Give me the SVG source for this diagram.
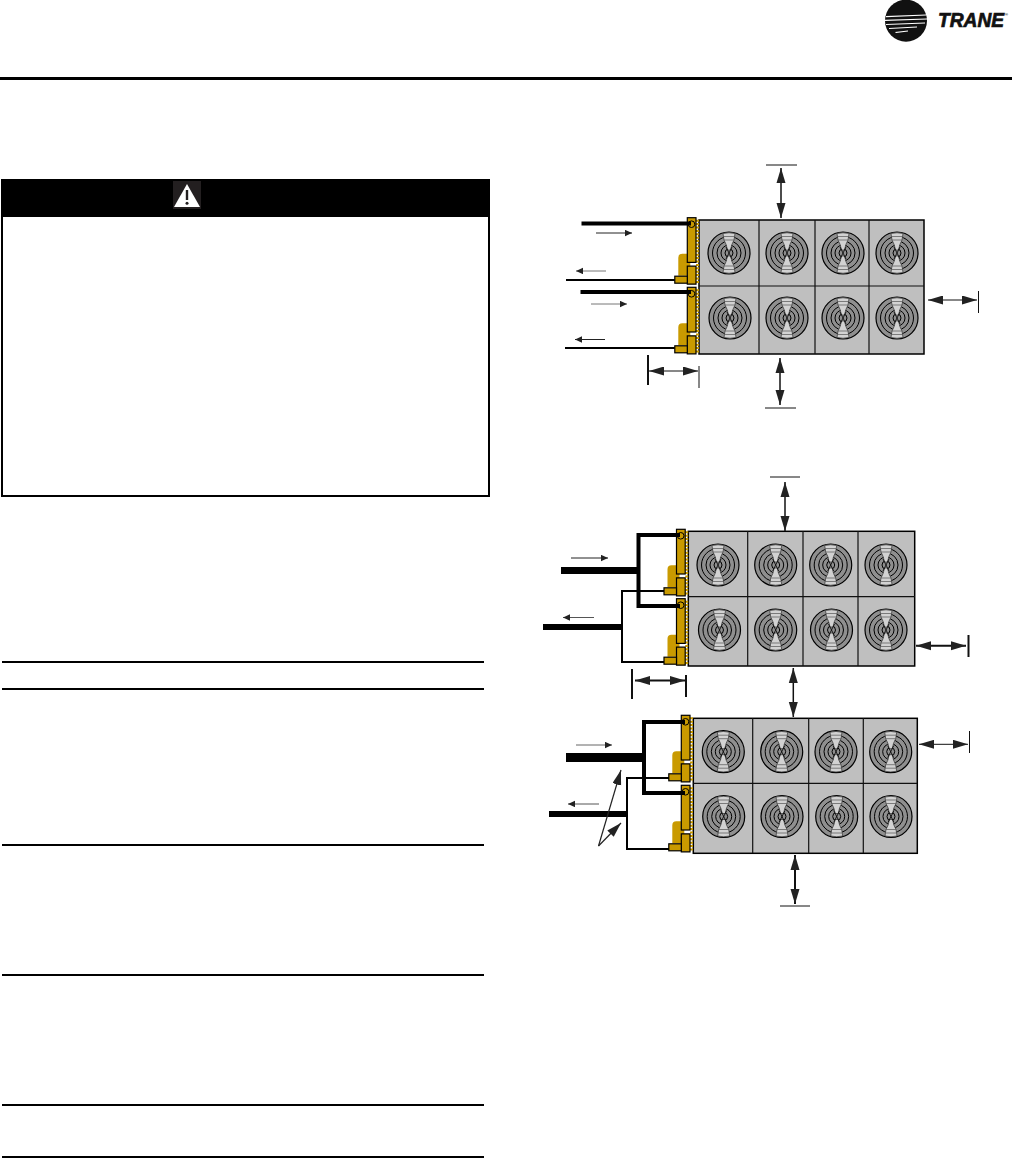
<svg xmlns="http://www.w3.org/2000/svg" width="1012" height="1158" viewBox="0 0 1012 1158">
<style>
.rule{stroke:#000;stroke-width:2;fill:none}
.cell{fill:#bfbfbf;stroke:#000;stroke-width:1.5}
.div{stroke:#111;stroke-width:1.2;fill:none}
.y{fill:#c99a00}
.ys{fill:#c99a00;stroke:#000;stroke-width:1.2}
.pipe{stroke:#000;fill:none;stroke-linejoin:miter}
.flow{stroke:#222;stroke-width:1;fill:none;marker-end:url(#small)}
.dim{stroke:#111;fill:none;marker-start:url(#bigS);marker-end:url(#big)}
.tick{stroke:#111;fill:none}
.ring{fill:none;stroke:#000;stroke-width:1}
.blade{fill:#d2d2d2;stroke:#333;stroke-width:.7}
.logo{font-family:"Liberation Sans",Arial,sans-serif;font-weight:700;font-style:italic;fill:#111}
</style>
<defs>
<marker id="small" markerUnits="userSpaceOnUse" markerWidth="8" markerHeight="8" refX="7" refY="3.2" orient="auto"><path d="M0,0L7,3.2L0,6.4Z" fill="#222"/></marker>
<marker id="big" markerUnits="userSpaceOnUse" markerWidth="16" markerHeight="10" refX="15" refY="4.5" orient="auto"><path d="M0,0L15,4.5L0,9Z" fill="#222"/></marker>
<marker id="bigS" markerUnits="userSpaceOnUse" markerWidth="16" markerHeight="10" refX="0" refY="4.5" orient="auto"><path d="M15,0L0,4.5L15,9Z" fill="#222"/></marker>
<g id="fan">
<circle r="21" fill="#8f8f8f" stroke="#000" stroke-width="1.2"/>
<circle class="ring" r="16.5"/><circle class="ring" r="12"/><circle class="ring" r="8"/><circle class="ring" r="4"/>
<path class="blade" d="M-6,-19.5Q0,-21 6,-19.5L5,-13Q2.5,-9 1.5,-3H-1.5Q-2.5,-9 -5,-13Z"/>
<path class="blade" d="M-6,19.5Q0,21 6,19.5L5,13Q2.5,9 1.5,3H-1.5Q-2.5,9 -5,13Z"/>
<path d="M-5.5,-16.5H5.5M-5,-13H5M-5.5,16.5H5.5M-5,13H5" stroke="#555" stroke-width=".7" fill="none"/>
<path d="M-3,-6L3,6M3,-6L-3,6" stroke="#000" stroke-width=".8" fill="none"/>
</g>
<g id="coil">
<path d="M10.2,2V66" stroke="#c99a00" stroke-width="3" stroke-dasharray="2 1.4" fill="none"/>
<path class="y" d="M-5,36H0V44H3V58H-9V40Q-9,36 -5,36Z"/>
<rect class="ys" x="0" y="0" width="8.7" height="44.7"/>
<path class="ys" d="M0,48.5H8.7V66.5H0Z"/>
<rect class="ys" x="-12.5" y="58.5" width="12.5" height="7"/>
<circle cx="4.2" cy="6.5" r="3.3" fill="none" stroke="#000" stroke-width="1"/>
</g>
</defs>

<g id="header">
<rect x="0" y="77" width="1012" height="3" fill="#000"/>
<g id="logo">
<circle cx="906" cy="20.7" r="21" fill="#111"/>
<path d="M886,16L926,14.5V15.6L886,17.2ZM885,19.8L927,18.5V19.6L885,21ZM886,24L925,22.5V23.6L886,25ZM889,28L917,26.5V27.6L889,29ZM895,32L908,30.5V31.6L896,33Z" fill="#fff"/>
<text class="logo" x="938" y="27" font-size="20" textLength="66" lengthAdjust="spacingAndGlyphs" stroke="#111" stroke-width=".7">TRANE</text>
<text class="logo" x="1005" y="16" font-size="4">®</text>
</g>
</g>

<g id="warning">
<rect x="2" y="180" width="487" height="316" fill="#fff" stroke="#000" stroke-width="2"/>
<rect x="2" y="180" width="487" height="37" fill="#000"/>
<rect x="173" y="181" width="28" height="28" fill="#231f20"/>
<path d="M187,184L200,207H174Z" fill="#fff"/>
<path d="M187,190V200" stroke="#231f20" stroke-width="2.4"/>
<circle cx="187" cy="203.3" r="1.5" fill="#231f20"/>
</g>

<g id="rules">
<path class="rule" d="M2,662H484M2,689H484M2,845H484M2,975H484M2,1105H484M2,1157H484"/>
</g>

<g id="unit-1">
<rect class="cell" x="699" y="220" width="225" height="134"/>
<path class="div" d="M699,286H924M759,220V354M815,220V354M869,220V354"/>
<use href="#fan" x="729" y="253"/><use href="#fan" x="787" y="253"/><use href="#fan" x="843" y="253"/><use href="#fan" x="897" y="253"/>
<use href="#fan" x="730" y="318"/><use href="#fan" x="787" y="318"/><use href="#fan" x="843" y="318"/><use href="#fan" x="897" y="318"/>
<use href="#coil" x="687.3" y="217.7"/><use href="#coil" x="687.3" y="287.3"/>
</g>

<g id="unit-2">
<rect class="cell" x="688.3" y="531.3" width="226.4" height="134.7"/>
<path class="div" d="M688,596.7H915M747.7,531V666M803,531V666M858,531V666"/>
<use href="#fan" x="718" y="565"/><use href="#fan" x="775.7" y="565"/><use href="#fan" x="830.7" y="565"/><use href="#fan" x="886" y="565"/>
<use href="#fan" x="719.5" y="630"/><use href="#fan" x="775.7" y="630"/><use href="#fan" x="831.5" y="630"/><use href="#fan" x="886" y="630"/>
<use href="#coil" x="676.5" y="529.3"/><use href="#coil" x="676.5" y="598.7"/>
</g>

<g id="unit-3">
<rect class="cell" x="693.3" y="718.3" width="224" height="135"/>
<path class="div" d="M693,783.3H917M752.7,718V853M808.7,718V853M863.3,718V853"/>
<use href="#fan" x="723.3" y="751.7"/><use href="#fan" x="781.7" y="751.7"/><use href="#fan" x="836" y="751.7"/><use href="#fan" x="890.7" y="751.7"/>
<use href="#fan" x="723.7" y="816.5"/><use href="#fan" x="782" y="816.5"/><use href="#fan" x="836.7" y="816.5"/><use href="#fan" x="891" y="816.5"/>
<use href="#coil" x="681.3" y="715.3"/><use href="#coil" x="681.3" y="785.3"/>
</g>

<g id="connectors">
<path class="pipe" stroke-width="4" d="M581.5,223.5H691M580.5,292H691"/>
<path class="pipe" stroke-width="2" d="M566,280H674.8M565,348H674.8"/>
<path class="flow" d="M596,233H632"/>
<path class="flow" d="M606,271H576" style="stroke:#777"/>
<path class="flow" d="M591,304H627" style="stroke:#777"/>
<path class="flow" d="M605,339.5H575"/>
<path class="dim" stroke-width="1" d="M649,371H698"/>
<path class="tick" stroke-width="2" d="M648,355V385"/>
<path class="tick" stroke-width="1" d="M699,366V388M766,165H797M765,408H796M978.5,291V313"/>
<path class="dim" stroke-width="1.5" d="M781,168V218"/>
<path class="dim" stroke-width="1.5" d="M780,358V405"/>
<path class="dim" stroke-width="1" d="M928,300H977"/>
<path class="pipe" stroke-width="7" d="M561,570.5H638"/>
<path class="pipe" stroke-width="6" d="M543,627H622"/>
<path class="pipe" stroke-width="4" d="M680,535H638.5V606H680"/>
<path class="pipe" stroke-width="2" d="M664,591H622V662H664"/>
<path class="flow" d="M571,558H608"/>
<path class="flow" d="M594,617.5H563" style="stroke:#555"/>
<path class="dim" stroke-width="2" d="M635,680.5H685"/>
<path class="tick" stroke-width="2" d="M632,669V699M686,675V697M968.5,635V657"/>
<path class="tick" stroke-width="1" d="M770,477H800"/>
<path class="dim" stroke-width="1.5" d="M785,482V531"/>
<path class="dim" stroke-width="2" d="M916,645.7H966"/>
<path class="dim" stroke-width="1.5" d="M793.3,668V717"/>
<path class="pipe" stroke-width="9" d="M566,757.5H644"/>
<path class="pipe" stroke-width="6" d="M549,814H627"/>
<path class="pipe" stroke-width="4" d="M685,722H644V793H685"/>
<path class="pipe" stroke-width="2" d="M669,778H627V849H669"/>
<path class="flow" d="M576,745H612" style="stroke:#666"/>
<path class="flow" d="M599,804H568" style="stroke:#555"/>
<path class="dim" stroke-width="1" d="M919,744.3H968"/>
<path class="tick" stroke-width="1" d="M969.5,731V753M780,906H810"/>
<path class="dim" stroke-width="2" d="M795,855V904"/>
<path stroke="#222" stroke-width="1.2" fill="none" marker-end="url(#big)" d="M598.5,846L621,770"/>
<path stroke="#222" stroke-width="1.2" fill="none" marker-end="url(#big)" d="M598.5,846L621,823"/>
</g>
</svg>
